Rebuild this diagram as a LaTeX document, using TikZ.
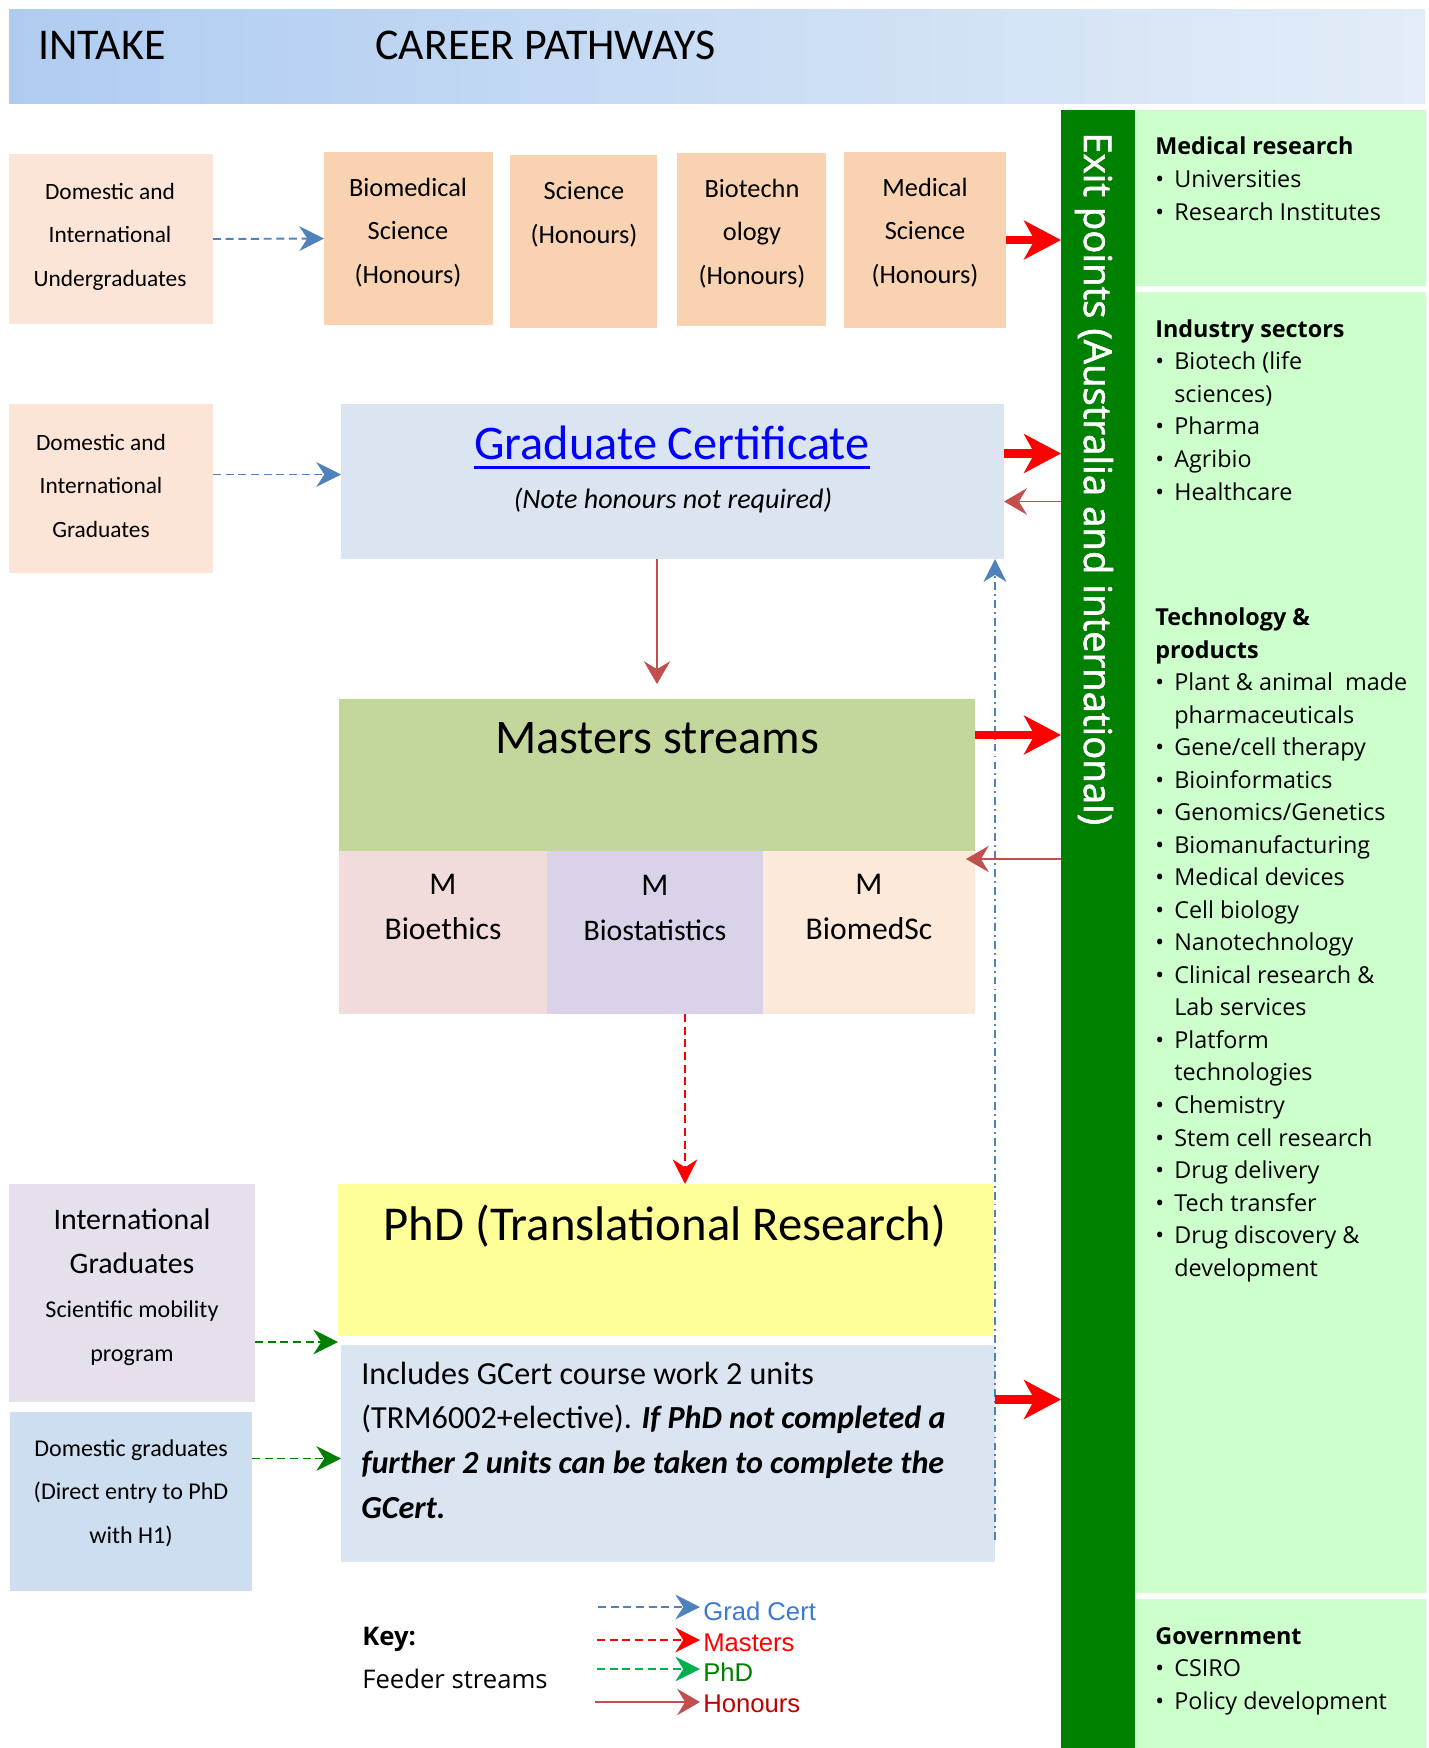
\documentclass[tikz,border=0pt]{standalone}
\usepackage{fontspec}
\setmainfont{Carlito}
\newfontfamily\segoe{Open Sans}
\newfontfamily\segoeheavy{Open Sans}[FakeBold=1.6]
\newfontfamily\arialf{Liberation Sans}
\usetikzlibrary{fit, calc, arrows.meta}

\definecolor{hdrleft}{RGB}{175,204,240}
\definecolor{hdrright}{RGB}{227,237,248}
\definecolor{intakepeach}{RGB}{252,228,214}
\definecolor{honpeach}{RGB}{249,211,177}
\definecolor{gcblue}{RGB}{219,229,241}
\definecolor{mastgreen}{RGB}{195,214,155}
\definecolor{mrose}{RGB}{242,220,219}
\definecolor{mlilac}{RGB}{217,210,233}
\definecolor{mcream}{RGB}{253,233,217}
\definecolor{phdyellow}{RGB}{255,255,153}
\definecolor{intllilac}{RGB}{229,224,236}
\definecolor{domblue}{RGB}{206,222,241}
\definecolor{exitgreen}{RGB}{0,128,0}
\definecolor{sectorgreen}{RGB}{204,255,204}
\definecolor{gcarrow}{RGB}{79,129,189}
\definecolor{honarrow}{RGB}{192,80,77}
\definecolor{phdarrow}{RGB}{0,176,80}
\definecolor{gctext}{RGB}{60,120,216}
\definecolor{hontext}{RGB}{192,0,0}

\newcommand{\bul}{\makebox[10.8pt][l]{\textbullet}}
\newcommand{\ind}{\hspace*{10.8pt}}

\begin{document}
\begin{tikzpicture}[
      x=0.02cm, y=-0.02cm,
      box/.style={inner sep=0pt, outer sep=0pt, fit={#1}},
      txt/.style={inner sep=0pt, align=center, anchor=base},
      smalltxt/.style={txt, font=\fontsize{13.3}{24.5}\selectfont},
      hontxt/.style={txt, font=\fontsize{15}{24.5}\selectfont},
      sectortxt/.style={inner sep=0pt, align=left, anchor=base west, font=\segoe\fontsize{13.3}{18.5}\selectfont},
      legendtxt/.style={inner sep=1.7pt, anchor=base west, font=\arialf\fontsize{14.6}{17}\selectfont},
      feed/.style={line width=1.1pt, dash pattern=on 4.6pt off 2.6pt, -{Stealth[length=14pt, width=14pt, inset=4.5pt]}},
      gcfeed/.style={feed, gcarrow},
      mastfeed/.style={feed, red},
      phdfeed/.style={feed, exitgreen},
      honfeed/.style={line width=1.1pt, honarrow, -{Stealth[length=13pt, width=15pt, inset=4.5pt]}},
      exitflow/.style={line width=5pt, red, -{Stealth[length=21pt, width=22pt, inset=6pt]}},
      gcloop/.style={line width=0.9pt, gcarrow, dash pattern=on 4.5pt off 2.3pt on 1.1pt off 2.3pt, -{Stealth[length=13pt, width=13pt, inset=4pt]}}
   ]
   \useasboundingbox (0,0) rectangle (1429,1748);

   % Header
   \node[box={(9,9) (1425,103)}, left color=hdrleft, right color=hdrright] (header) {};
   \node[txt, anchor=base west, font=\fontsize{25}{30}\selectfont] (intake) at (38,59) {INTAKE};
   \node[txt, anchor=base west, font=\fontsize{25}{30}\selectfont] (careerpw) at (375,59) {CAREER PATHWAYS};

   % Intake and honours row (multi-line texts sit on their last baseline)
   \node[box={(9,154) (213,324)}, fill=intakepeach] (ugrad) {};
   \node[box={(324,152) (493,325)}, fill=honpeach] (biomed) {};
   \node[box={(510,155) (657,328)}, fill=honpeach] (science) {};
   \node[box={(677,153) (826,326)}, fill=honpeach] (biotech) {};
   \node[box={(844,152) (1006,328)}, fill=honpeach] (medsci) {};
   \node[smalltxt] (ugradtxt) at (110,286) {Domestic and\\International\\Undergraduates};
   \node[hontxt] (biomedtxt) at (408,283) {Biomedical\\Science\\(Honours)};
   \node[hontxt] (sciencetxt) at (584,243) {Science\\(Honours)};
   \node[hontxt] (biotechtxt) at (752,284) {Biotechn\\ology\\(Honours)};
   \node[hontxt] (medscitxt) at (925,283) {Medical\\Science\\(Honours)};

   % Graduate certificate
   \node[box={(9,404) (213,573)}, fill=intakepeach] (grads) {};
   \node[box={(341,404) (1004,559)}, fill=gcblue] (gcert) {};
   \node[smalltxt] (gradstxt) at (101,537) {Domestic and\\International\\Graduates};
   \node[txt, text=blue, font=\fontsize{27.5}{32}\selectfont] (gctitle) at (672,459) {Graduate Certificate};
   \draw[blue, line width=1.7pt] ($(gctitle.base west)+(0,8)$) -- ($(gctitle.base east)+(0,8)$);
   \node[txt, font=\itshape\fontsize{16}{19}\selectfont] (gcnote) at (673,508) {(Note honours not required)};

   % Masters
   \node[box={(339,699) (975,851)}, fill=mastgreen] (masters) {};
   \node[box={(339,851) (547,1014)}, fill=mrose] (mbioeth) {};
   \node[box={(547,851) (763,1014)}, fill=mlilac] (mbiostat) {};
   \node[box={(763,851) (975,1014)}, fill=mcream] (mbiomed) {};
   \node[txt, font=\fontsize{27.5}{32}\selectfont] (masterstxt) at (657,753) {Masters streams};
   \node[txt, font=\fontsize{18}{25.6}\selectfont] (mbioethtxt) at (443,939) {M\\Bioethics};
   \node[txt, font=\fontsize{18}{25.6}\selectfont] (mbiostattxt) at (655,940) {M\\{\fontsize{17}{25.6}\selectfont Biostatistics}};
   \node[txt, font=\fontsize{18}{25.6}\selectfont] (mbiomedtxt) at (869,939) {M\\BiomedSc};

   % PhD
   \node[box={(9,1184) (255,1402)}, fill=intllilac] (intlgr) {};
   \node[box={(10,1412) (252,1591)}, fill=domblue] (domgr) {};
   \node[box={(338,1184) (993,1336)}, fill=phdyellow] (phd) {};
   \node[box={(341,1345) (995,1562)}, fill=gcblue] (phdnote) {};
   \node[txt, font=\fontsize{17}{25}\selectfont] (intlgrtxt) at (132,1361)
      {International\\Graduates\\{\fontsize{13.7}{25}\selectfont Scientific mobility}\\{\fontsize{13.7}{25}\selectfont program}};
   \node[smalltxt, font=\fontsize{13.7}{24.5}\selectfont] (domgrtxt) at (131,1543) {Domestic graduates\\(Direct entry to PhD\\with H1)};
   \node[txt, font=\fontsize{27.7}{32}\selectfont] (phdtxt) at (665,1240) {PhD (Translational Research)};
   \node[txt, align=left, anchor=base west, font=\fontsize{18.3}{25.4}\selectfont] (phdnotetxt) at (361,1518)
      {Includes GCert course work 2 units\\(TRM6002+elective). \textbf{\textit{If PhD not completed a}}\\\textbf{\textit{further 2 units can be taken to complete the}}\\\textbf{\textit{GCert.}}};

   % Exit points and sectors
   \node[box={(1061,110) (1135,1748)}, fill=exitgreen] (exitbar) {};
   \node[inner sep=0pt, rotate=-90, anchor=base west, text=white, font=\segoeheavy\fontsize{21.8}{26}\selectfont] (exittxt) at (1084,132)
      {Exit points (Australia and international)};
   \node[box={(1136,110) (1426,286)}, fill=sectorgreen] (medpanel) {};
   \node[box={(1136,292) (1426,1593)}, fill=sectorgreen] (indpanel) {};
   \node[box={(1136,1599) (1426,1748)}, fill=sectorgreen] (govpanel) {};
   \node[sectortxt] (medtxt) at (1155,220) {\textbf{Medical research}\\\bul Universities\\\bul Research Institutes};
   \node[sectortxt] (indtxt) at (1155,500)
      {\textbf{Industry sectors}\\\bul Biotech (life\\\ind sciences)\\\bul Pharma\\\bul Agribio\\\bul Healthcare};
   \node[sectortxt] (techtxt) at (1155,1276)
      {\textbf{Technology \&}\\\textbf{products}\\\bul Plant \& animal\ \ made\\\ind pharmaceuticals\\\bul Gene/cell therapy\\
       \bul Bioinformatics\\\bul Genomics/Genetics\\\bul Biomanufacturing\\\bul Medical devices\\\bul Cell biology\\
       \bul Nanotechnology\\\bul Clinical research \&\\\ind Lab services\\\bul Platform\\\ind technologies\\\bul Chemistry\\
       \bul Stem cell research\\\bul Drug delivery\\\bul Tech transfer\\\bul Drug discovery \&\\\ind development};
   \node[sectortxt] (govtxt) at (1155,1709) {\textbf{Government}\\\bul CSIRO\\\bul Policy development};

   % Feeder arrows
   \draw[gcfeed] (ugrad.east) -- (biomed.west);
   \draw[gcfeed] ($(grads.east)+(0,-14)$) -- ($(gcert.west |- grads.east)+(0,-14)$);
   \draw[phdfeed] ($(intlgr.east |- phd.south)+(0,6)$) -- ($(phd.south west)+(0,6)$);
   \draw[phdfeed] ($(domgr.east |- phdnote.west)+(0,5)$) -- ($(phdnote.west)+(0,5)$);
   \draw[honfeed, shorten >=8.5pt] (gcert.south -| masters.north) -- (masters.north);
   \draw[mastfeed] ($(mbiostat.south)+(30,0)$) -- ($(mbiostat.south |- phd.north)+(30,0)$);
   \coordinate (gcback) at (995,1540);
   \draw[gcloop] (gcback) -- (gcback |- gcert.south);

   % Exit arrows
   \draw[exitflow] (medsci.east) -- (medsci.east -| exitbar.west);
   \draw[exitflow] ($(gcert.east)+(0,-28)$) -- ($(exitbar.west |- gcert.east)+(0,-28)$);
   \draw[exitflow] ($(masters.east)+(0,-40)$) -- ($(exitbar.west |- masters.east)+(0,-40)$);
   \draw[exitflow] ($(phdnote.east)+(0,-54)$) -- ($(exitbar.west |- phdnote.east)+(0,-54)$);
   \draw[honfeed] ($(exitbar.west |- gcert.east)+(0,20)$) -- ($(gcert.east)+(0,20)$);
   \draw[honfeed] ($(exitbar.west |- mbiomed.north)+(0,8)$) -- ($(mbiomed.north east)+(-9,8)$);

   % Key
   \node[txt, anchor=base west, font=\segoe\bfseries\fontsize{14.6}{18}\selectfont] (keytxt) at (362,1645) {Key:};
   \node[txt, anchor=base west, font=\segoe\fontsize{14.6}{18}\selectfont] (feedertxt) at (362,1688) {Feeder streams};
   \node[legendtxt, text=gctext] (lgc) at (700,1620) {Grad Cert};
   \node[legendtxt, text=red] (lmast) at (700,1651) {Masters};
   \node[legendtxt, text=exitgreen] (lphd) at (700,1681) {PhD};
   \node[legendtxt, text=hontext] (lhon) at (700,1712) {Honours};
   \coordinate (lgcstart) at (598,1607);
   \coordinate (lmaststart) at (597,1640);
   \coordinate (lphdstart) at (597,1669);
   \coordinate (lhonstart) at (595,1702);
   \draw[gcfeed] (lgcstart) -- (lgcstart -| lgc.west);
   \draw[mastfeed] (lmaststart) -- (lmaststart -| lmast.west);
   \draw[feed, phdarrow] (lphdstart) -- (lphdstart -| lphd.west);
   \draw[honfeed] (lhonstart) -- (lhonstart -| lhon.west);
\end{tikzpicture}
\end{document}
